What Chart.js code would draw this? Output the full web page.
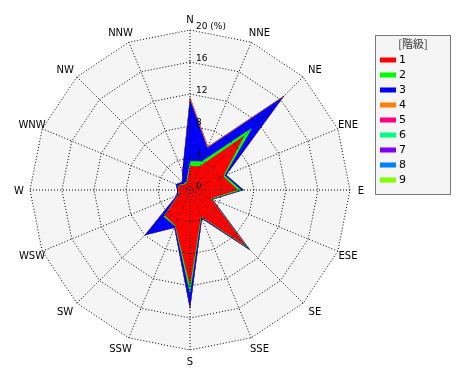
<!DOCTYPE html>
<html><head><meta charset="utf-8">
<script src="https://cdn.jsdelivr.net/npm/chart.js@4/dist/chart.umd.min.js"></script>
<style>html,body{margin:0;padding:0;background:#fff}#wrap{width:470px;height:380px}</style>
</head><body><div id="wrap"><canvas id="c" width="470" height="380"></canvas></div>
<script>
const directions = ['N','NNE','NE','ENE','E','ESE','SE','SSE','S','SSW','SW','WSW','W','WNW','NW','NNW'];
const classLabels = ['1','2','3','4','5','6','7','8','9'];
const classColors = ['#ff0000','#00ff00','#0000ff','#ff8000','#ff0080','#00ff80','#8000ff','#0080ff','#80ff00'];
// frequency (%) per wind-speed class and direction
const class1 = [3.0, 3.2, 9.6, 4.5, 6.0, 2.8, 10.0, 3.6, 12.0, 4.8, 4.5, 1.5, 1.5, 1.5, 1.0, 1.0];
const class2 = [0.6, 0.7, 1.4, 0.2, 0.4, 0.1, 0.3, 0.1, 1.0, 0.1, 0.2, 0.1, 0.0, 0.1, 0.1, 0.2];
const class3 = [7.7, 1.8, 5.5, 0.2, 0.3, 0.1, 0.3, 0.2, 1.8, 0.2, 3.3, 0.2, 0.1, 0.3, 0.3, 1.3];
const class4 = [0.3, 0.2, 0.1, 0.0, 0.0, 0.0, 0.0, 0.0, 0.0, 0.0, 0.0, 0.0, 0.0, 0.0, 0.0, 0.0];
const class5 = [0.0, 0.0, 0.1, 0.0, 0.0, 0.1, 0.1, 0.0, 0.0, 0.0, 0.0, 0.0, 0.0, 0.0, 0.0, 0.0];
const class6 = [0.0, 0.0, 0.0, 0.0, 0.0, 0.0, 0.0, 0.0, 0.0, 0.0, 0.0, 0.0, 0.0, 0.0, 0.0, 0.0];
const class7 = [0.0, 0.0, 0.0, 0.0, 0.0, 0.0, 0.0, 0.0, 0.1, 0.0, 0.0, 0.0, 0.0, 0.0, 0.0, 0.0];
const class8 = [0.0, 0.0, 0.0, 0.0, 0.0, 0.0, 0.0, 0.0, 0.0, 0.0, 0.0, 0.0, 0.0, 0.0, 0.0, 0.0];
const class9 = [0.1, 0.0, 0.2, 0.0, 0.1, 0.0, 0.0, 0.0, 0.0, 0.0, 0.1, 0.0, 0.0, 0.0, 0.0, 0.0];
const tickValues = [0, 4, 8, 12, 16, 20];
const tickLabels = ['0', '4', '8', '12', '16', '20 (%)'];
const legendTitle = '[階級]';

const classSeries = [class1, class2, class3, class4, class5, class6, class7, class8, class9];
// stacked (cumulative) rings
const running = directions.map(() => 0);
const datasets = classSeries.map((arr, k) => {
  const cum = arr.map((v, i) => { running[i] += v; return +running[i].toFixed(3); });
  return {
    label: classLabels[k], data: cum,
    backgroundColor: classColors[k], borderColor: classColors[k],
    borderWidth: 0, fill: 'origin', pointRadius: 0, tension: 0
  };
});

const BG = '#f5f5f5';
const decor = {
  id: 'decor',
  beforeDraw(chart) {
    const s = chart.scales.r, ctx = chart.ctx;
    ctx.save();
    ctx.beginPath();
    for (let i = 0; i < directions.length; i++) {
      const p = s.getPointPosition(i, s.drawingArea);
      if (i === 0) ctx.moveTo(p.x, p.y); else ctx.lineTo(p.x, p.y);
    }
    ctx.closePath();
    ctx.fillStyle = BG;
    ctx.fill();
    ctx.restore();
  },
  afterDraw(chart) {
    const s = chart.scales.r, ctx = chart.ctx;
    ctx.save();
    // direction labels
    ctx.fillStyle = '#000';
    ctx.font = '10px "DejaVu Sans"';
    ctx.textAlign = 'center';
    ctx.textBaseline = 'middle';
    directions.forEach((d, i) => {
      const p = s.getPointPosition(i, s.drawingArea + 11);
      const sx = Math.sin(i * Math.PI / 8);
      const a = Math.abs(sx);
      const nudge = (a > 0.1 && a < 0.8) ? 4 * Math.sign(sx) : 0;
      ctx.fillText(d, p.x + nudge, p.y + 1);
    });
    // radial tick labels
    ctx.font = '9px "DejaVu Sans"';
    ctx.textAlign = 'left';
    ctx.textBaseline = 'alphabetic';
    tickValues.forEach((v, i) => {
      const y = s.yCenter - s.getDistanceFromCenterForValue(v);
      ctx.fillText(tickLabels[i], s.xCenter + 6, y - 1);
    });
    // legend
    const lx = 375, ly = 35, lw = 76, lh = 160;
    ctx.fillStyle = BG;
    ctx.fillRect(lx, ly, lw, lh);
    ctx.strokeStyle = '#000';
    ctx.lineWidth = 1;
    ctx.setLineDash([1, 1]);
    ctx.strokeRect(lx + 0.5, ly + 0.5, lw - 1, lh - 1);
    ctx.setLineDash([]);
    ctx.fillStyle = '#333';
    ctx.font = '11px "Noto Sans CJK JP"';
    ctx.textAlign = 'center';
    ctx.textBaseline = 'middle';
    ctx.fillText(legendTitle, lx + lw / 2, 44);
    ctx.font = '11px "DejaVu Sans"';
    ctx.textAlign = 'left';
    classLabels.forEach((l, k) => {
      const y = 60 + 15 * k;
      ctx.fillStyle = classColors[k];
      ctx.fillRect(380, y - 2.5, 16, 5);
      ctx.fillStyle = '#000';
      ctx.fillText(l, 399, y + 0.5);
    });
    ctx.restore();
  }
};

new Chart(document.getElementById('c'), {
  type: 'radar',
  data: { labels: directions, datasets },
  options: {
    responsive: false, animation: false, devicePixelRatio: 1,
    layout: { padding: { left: 30, top: 30, right: 120, bottom: 30 } },
    plugins: { legend: { display: false }, tooltip: { enabled: false } },
    elements: { line: { tension: 0 }, point: { radius: 0 } },
    scales: {
      r: {
        min: 0, max: 20,
        ticks: { display: false, stepSize: 4 },
        pointLabels: { display: false },
        grid: { color: '#000', lineWidth: 1, z: 1 },
        border: { dash: [1, 2] },
        angleLines: { color: '#000', lineWidth: 1, borderDash: [1, 2] }
      }
    }
  },
  plugins: [decor]
});
</script>
</body></html>
